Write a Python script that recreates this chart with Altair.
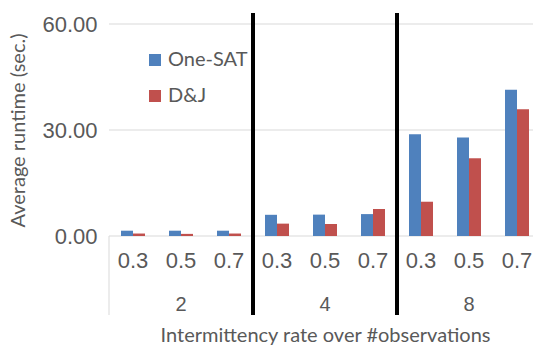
import altair as alt
import pandas as pd

observations = ["2", "4", "8"]
rates = ["0.3", "0.5", "0.7"]
series = ["One-SAT", "D&J"]
colors = ["#4F81BD", "#C0504D"]
one_sat = [1.5, 1.5, 1.5, 6.0, 6.05, 6.2, 28.8, 27.9, 41.4]
dj = [0.7, 0.6, 0.7, 3.5, 3.4, 7.65, 9.7, 22.0, 35.9]
y_ticks = [0, 30, 60]

cats = [f"{o}|{r}" for o in observations for r in rates]
rows = []
for i, c in enumerate(cats):
    rows.append({"cat": c, "series": series[0], "value": one_sat[i]})
    rows.append({"cat": c, "series": series[1], "value": dj[i]})
df = pd.DataFrame(rows)

grid_df = pd.DataFrame({"tick": y_ticks})
sep_df = pd.DataFrame({"cat": [f"{o}|{rates[0]}" for o in observations[1:]]})
left_df = pd.DataFrame({"cat": [cats[0]]})
grp_df = pd.DataFrame({"cat": [f"{o}|{rates[1]}" for o in observations], "label": observations})

GRAY = "#595959"
xscale = alt.Scale(domain=cats, paddingInner=0, paddingOuter=0)
xaxis = alt.Axis(
    labelExpr="split(datum.value, '|')[1]", labelFont="Liberation Sans", labelFontSize=22,
    labelColor=GRAY, labelPadding=14, labelAngle=0, ticks=False, domain=False,
    title="Intermittency rate over #observations", titleFont="Lato", titleFontSize=20,
    titleFontWeight="normal", titleColor=GRAY, titleY=105, titleBaseline="alphabetic",
)
yscale = alt.Scale(domain=[0, 60])
yaxis = alt.Axis(
    values=y_ticks, format=".2f", labelFont="Liberation Sans", labelFontSize=22,
    labelColor=GRAY, labelPadding=12, ticks=False, domain=False, grid=False,
    title="Average runtime (sec.)", titleFont="Lato", titleFontSize=20,
    titleFontWeight="normal", titleColor=GRAY, titleX=-85, titleY=106, titleAngle=270,
    titleAlign="center", titleBaseline="alphabetic",
)

grid = alt.Chart(grid_df).mark_rule(color="#d9d9d9", strokeWidth=1).encode(
    y=alt.Y("tick:Q", scale=yscale, axis=yaxis),
    x=alt.value(0), x2=alt.value(424),
)

bars = alt.Chart(df).mark_bar().encode(
    x=alt.X("cat:N", scale=xscale, sort=cats, axis=xaxis),
    xOffset=alt.XOffset("series:N", sort=series, scale=alt.Scale(domain=series, paddingInner=0, paddingOuter=1)),
    y=alt.Y("value:Q", scale=yscale, axis=yaxis),
    color=alt.Color("series:N", sort=series, scale=alt.Scale(domain=series, range=colors),
                    legend=alt.Legend(title=None, orient="none", legendX=36, legendY=26,
                                      symbolType="square", symbolSize=144, symbolStrokeWidth=0,
                                      labelFont="Lato", labelFontSize=20, labelColor=GRAY,
                                      rowPadding=16, labelOffset=3, padding=0)),
)

left_line = alt.Chart(left_df).mark_rule(color="#d9d9d9", strokeWidth=1).encode(
    x=alt.X("cat:N", scale=xscale, sort=cats, axis=xaxis, bandPosition=0),
    y=alt.value(212), y2=alt.value(291),
)

seps = alt.Chart(sep_df).mark_rule(color="black", strokeWidth=4).encode(
    x=alt.X("cat:N", scale=xscale, sort=cats, axis=xaxis, bandPosition=0),
    y=alt.value(-11), y2=alt.value(291),
)

groups = alt.Chart(grp_df).mark_text(font="Liberation Sans", fontSize=20, color=GRAY,
                                     baseline="alphabetic", align="center").encode(
    x=alt.X("cat:N", scale=xscale, sort=cats, axis=xaxis),
    y=alt.value(287),
    text="label:N",
)

chart = alt.layer(grid, bars, left_line, seps, groups).properties(
    width=432, height=212,
    autosize=alt.AutoSizeParams(type="none"),
    padding={"left": 101, "top": 16, "right": 0, "bottom": 110},
).configure_view(stroke=None)

chart.save("out.html", embed_options={"renderer": "svg", "actions": False})
